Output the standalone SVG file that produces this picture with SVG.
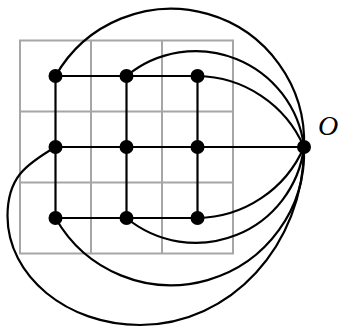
<svg xmlns="http://www.w3.org/2000/svg" width="339" height="327" viewBox="0 0 339 327">
<style>
.grid{stroke:#a6a6a6;stroke-width:2;fill:none}
.edge{stroke:#000;stroke-width:2.2;fill:none}
.node{fill:#000}
.lbl{font-family:"Liberation Serif",serif;font-style:italic;font-size:28px;fill:#000}
</style>
<g id="grid" class="grid">
<rect x="20" y="40.5" width="213" height="213"/>
<line x1="91" y1="40.5" x2="91" y2="253.5"/>
<line x1="162" y1="40.5" x2="162" y2="253.5"/>
<line x1="20" y1="111.5" x2="233" y2="111.5"/>
<line x1="20" y1="182.5" x2="233" y2="182.5"/>
</g>
<g id="connectors" class="edge">
<line x1="55.5" y1="76" x2="197.5" y2="76"/>
<line x1="55.5" y1="147" x2="304" y2="147"/>
<line x1="55.5" y1="218" x2="197.5" y2="218"/>
<line x1="55.5" y1="76" x2="55.5" y2="218"/>
<line x1="126.5" y1="76" x2="126.5" y2="218"/>
<line x1="197.5" y1="76" x2="197.5" y2="218"/>
<path d="M55.5,76 A133,133 0 0 1 304,147"/>
<path d="M126.5,76 A109,109 0 0 1 304,147"/>
<path d="M197.5,76 A118,118 0 0 1 304,147"/>
<path d="M197.5,218 A118,118 0 0 0 304,147"/>
<path d="M126.5,218 A109,109 0 0 0 304,147"/>
<path d="M55.5,218 A133,133 0 0 0 304,147"/>
<path d="M55.5,147 C25,165 7.5,178 7.5,216 C7.5,276 67,325 140,325 C230.6,325 304,245 304,147"/>
</g>
<g id="n11"><circle class="node" cx="55.5" cy="76" r="7"/></g>
<g id="n12"><circle class="node" cx="126.5" cy="76" r="7"/></g>
<g id="n13"><circle class="node" cx="197.5" cy="76" r="7"/></g>
<g id="n21"><circle class="node" cx="55.5" cy="147" r="7"/></g>
<g id="n22"><circle class="node" cx="126.5" cy="147" r="7"/></g>
<g id="n23"><circle class="node" cx="197.5" cy="147" r="7"/></g>
<g id="n31"><circle class="node" cx="55.5" cy="218" r="7"/></g>
<g id="n32"><circle class="node" cx="126.5" cy="218" r="7"/></g>
<g id="n33"><circle class="node" cx="197.5" cy="218" r="7"/></g>
<g id="O"><circle class="node" cx="304" cy="147" r="7"/><text class="lbl" x="318" y="135">O</text></g>
</svg>
